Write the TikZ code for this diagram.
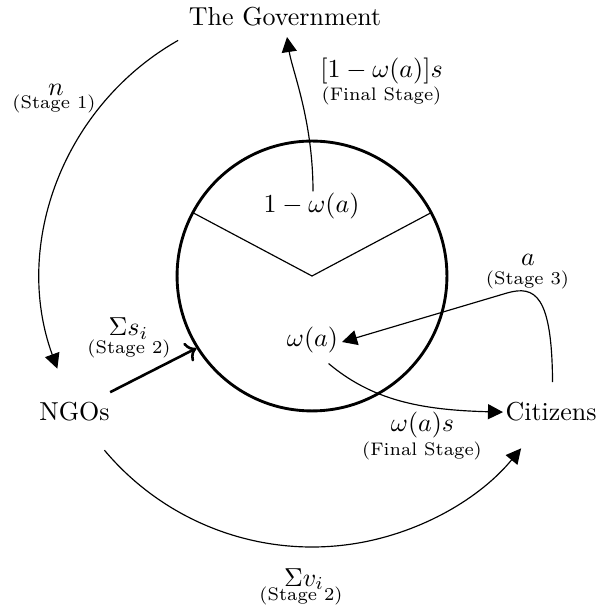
\documentclass[tikz,border=0pt]{standalone}
\usetikzlibrary{arrows.meta,calc}
\begin{document}
\begin{tikzpicture}[x=0.385pt,y=0.385pt,
  lbl/.style={inner sep=0pt, anchor=base},
  stg/.style={inner sep=0pt, anchor=base, font=\scriptsize},
  thinline/.style={line width=0.45pt},
  tri/.style={-{Triangle[length=5.8pt,width=5.8pt]}, line width=0.45pt},
  thickarrow/.style={->, line width=1pt}]
\useasboundingbox (0,0) rectangle (597,613);
\coordinate (C) at (312,337);
\node[circle, draw, line width=1.1pt, minimum size=103.9pt, inner sep=0pt] (circ) at (C) {};
\draw[thinline] ($(C)+(152:135)$) -- (C) -- ($(C)+(28:135)$);
% main nodes
\node[lbl] (gov) at (285,587) {The Government};
\node[lbl] (ngo) at (74.5,192) {NGOs};
\node[lbl, anchor=base west] (cit) at (505,192) {Citizens};
\node[lbl] (om1) at (311.5,400) {$1-\omega(a)$};
\node[lbl] (wa) at (312.5,266) {$\omega(a)$};
% labels
\node[lbl] (l1) at (381.5,535) {$[1-\omega(a)]s$};
\node[stg] (l1s) at (381.5,512) {(Final Stage)};
\node[lbl] (l2) at (56,517) {$n$};
\node[stg] (l2s) at (54,504) {(Stage 1)};
\node[lbl] (l3) at (528,347) {$a$};
\node[stg] (l3s) at (527.5,328) {(Stage 3)};
\node[lbl] (l4) at (128.5,277) {$\Sigma s_i$};
\node[stg] (l4s) at (129,259) {(Stage 2)};
\node[lbl] (l5) at (422.5,181) {$\omega(a)s$};
\node[stg] (l5s) at (422,157) {(Final Stage)};
\node[lbl] (l6) at (304,27) {$\Sigma v_i$};
\node[stg] (l6s) at (301,12) {(Stage 2)};
% connectors
\draw[tri] ($(om1.north)+(1.5,1.5)$) .. controls (313,493) and (292,543) .. ($(gov.base)+(2,-11)$);
\draw[tri] ($(C)+(119.6:271)$) arc[start angle=119.6, end angle=200, radius=271];
\draw[tri] ($(C)+(220:271)$) arc[start angle=220, end angle=320.5, radius=271];
\draw[thickarrow] ($(ngo.north east)+(0,10)$) -- (circ.212);
\draw[tri] ($(wa.south east)+(-10,-9.5)$) .. controls (372,213) and (420,203) .. ($(cit.west)+(-2,0)$);
\draw[tri] ($(cit.north)+(1.5,20)$) .. controls (552,318) and (535,328) .. (507,320) -- ($(wa.east)+(3.5,-1.5)$);
\end{tikzpicture}
\end{document}
